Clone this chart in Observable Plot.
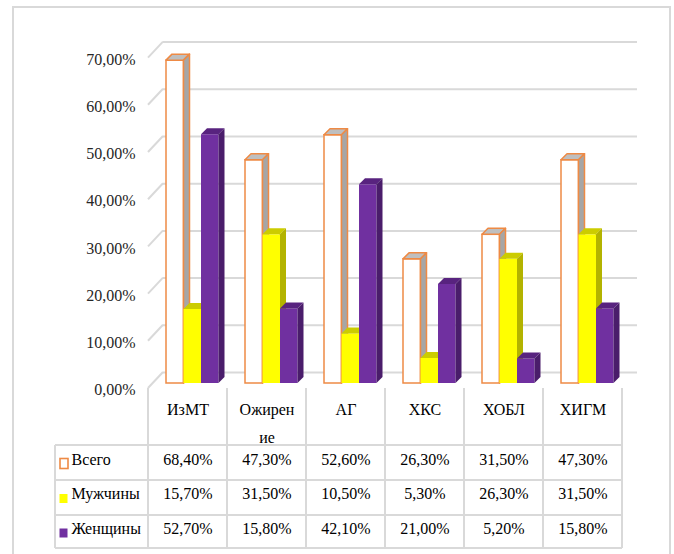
<!DOCTYPE html>
<html>
<head>
<meta charset="utf-8">
<script src="https://cdn.jsdelivr.net/npm/d3@7"></script>
<script src="https://cdn.jsdelivr.net/npm/@observablehq/plot@0.6"></script>
<style>
  html, body { margin: 0; padding: 0; background: #fff; overflow: hidden; }
</style>
</head>
<body>
<div id="chart"></div>
<script>
// Prevalence of conditions, percent
const categories = ["ИзМТ", "Ожирение", "АГ", "ХКС", "ХОБЛ", "ХИГМ"];
const categoryLabels = ["ИзМТ", "Ожирен\nие", "АГ", "ХКС", "ХОБЛ", "ХИГМ"];
const seriesNames = ["Всего", "Мужчины", "Женщины"];
const totalValues = [68.4, 47.3, 52.6, 26.3, 31.5, 47.3];
const menValues = [15.7, 31.5, 10.5, 5.3, 26.3, 31.5];
const womenValues = [52.7, 15.8, 42.1, 21.0, 5.2, 15.8];
const yTicks = [0, 10, 20, 30, 40, 50, 60, 70];

const seriesValues = [totalValues, menValues, womenValues];

// Face colours of the 3D columns: front, top, side, outline
const seriesStyles = [
  {front: "#ffffff", top: "#bfbfbf", side: "#a6a6a6", stroke: "#ee8a45", key: "hollow"},
  {front: "#ffff00", top: "#cccc00", side: "#b3b300", stroke: null},
  {front: "#7030a0", top: "#58237f", side: "#4a1d6b", stroke: null}
];

const W = 674, H = 554;
const M = {left: 148, right: 52, top: 52.6, bottom: 171};
const BAND = (W - M.left - M.right) / categories.length;
const BAR_OFFSET = 18, BAR_WIDTH = 17.5, DEPTH = 6;
const GRID = "#d9d9d9";
const FLOOR_FRONT = 5, BACK_DX = 15, BACK_DY = -11;
const FONT = "Times New Roman";
const fmtPct = v => v.toFixed(2).replace(".", ",") + "%";

// Table rows, measured down from the floor of the plot frame
const TABLE = {top: 5, header: 62, rows: [97, 132, 165], rowText: [81, 115.5, 150], left: 55};

function faces(g, x0, yTop, w, yBot, style) {
  const sel = d3.select(g);
  const x1 = x0 + w;
  const stroke = style.stroke || "none";
  sel.append("path")
    .attr("d", `M${x0},${yTop}L${x0 + DEPTH},${yTop - DEPTH}L${x1 + DEPTH},${yTop - DEPTH}L${x1},${yTop}Z`)
    .attr("fill", style.top).attr("stroke", stroke).attr("stroke-width", 1.5).attr("stroke-linejoin", "round");
  sel.append("path")
    .attr("d", `M${x1},${yTop}L${x1 + DEPTH},${yTop - DEPTH}L${x1 + DEPTH},${yBot - DEPTH}L${x1},${yBot}Z`)
    .attr("fill", style.side).attr("stroke", stroke).attr("stroke-width", 1.5).attr("stroke-linejoin", "round");
}

function bar3d(k) {
  const style = seriesStyles[k];
  const values = seriesValues[k];
  const insetLeft = BAR_OFFSET + k * BAR_WIDTH;
  return Plot.barY(categories, {
    x: d => d,
    y: (d, i) => values[i],
    fill: style.front,
    stroke: style.stroke || "none",
    strokeWidth: 1.5,
    insetLeft,
    insetRight: BAND - insetLeft - BAR_WIDTH,
    render(index, scales, vals, dims, ctx, next) {
      const g = next(index, scales, vals, dims, ctx);
      const rects = Array.from(g.querySelectorAll("rect"));
      for (const r of rects) {
        const x0 = +r.getAttribute("x"), y0 = +r.getAttribute("y");
        const w = +r.getAttribute("width"), h = +r.getAttribute("height");
        faces(g, x0, y0, w, y0 + h, style);
      }
      return g;
    }
  });
}

// Chart border, floor diagonals and data-table grid
function frameAndTable(index, {x, y}, values, dims) {
  const g = d3.create("svg:g").attr("fill", "none").attr("stroke", GRID).attr("stroke-width", 2);
  const base = dims.height - dims.marginBottom;
  const left = dims.marginLeft, right = dims.width - dims.marginRight;
  g.append("rect").attr("x", 13).attr("y", 7).attr("width", 657).attr("height", 560);
  for (const v of yTicks) {
    g.append("line")
      .attr("x1", left).attr("y1", y(v) + FLOOR_FRONT)
      .attr("x2", left + BACK_DX).attr("y2", y(v) + BACK_DY);
  }
  const edges = categories.map(c => x(c)).concat([x(categories[categories.length - 1]) + x.bandwidth()]);
  const tTop = base + TABLE.top, tBottom = base + TABLE.rows[2];
  for (const e of edges) {
    g.append("line").attr("x1", e).attr("x2", e).attr("y1", tTop).attr("y2", tBottom);
  }
  g.append("line").attr("x1", TABLE.left).attr("x2", TABLE.left)
    .attr("y1", base + TABLE.header).attr("y2", tBottom);
  for (const r of [TABLE.header, ...TABLE.rows]) {
    g.append("line").attr("x1", TABLE.left).attr("x2", right).attr("y1", base + r).attr("y2", base + r);
  }
  // legend keys in the row headers
  seriesStyles.forEach((s, k) => {
    const cy = base + TABLE.rowText[k];
    if (s.key === "hollow") {
      g.append("rect").attr("x", 60).attr("y", cy - 5.5).attr("width", 8).attr("height", 10)
        .attr("fill", "#fff").attr("stroke", s.stroke).attr("stroke-width", 1.6);
    } else {
      g.append("rect").attr("x", 59.5).attr("y", cy - 4.5).attr("width", 8).attr("height", 9)
        .attr("fill", s.front).attr("stroke", "none");
    }
  });
  return g.node();
}

const textColor = "#000";
const marks = [
  Plot.ruleY(yTicks, {dx: BACK_DX, dy: BACK_DY, stroke: GRID, strokeWidth: 2, strokeOpacity: 1}),
  frameAndTable,
  bar3d(0), bar3d(1), bar3d(2),
  Plot.axisY({ticks: yTicks, tickFormat: fmtPct, tickSize: 0, tickPadding: 13, dy: 6.5, label: null,
    fill: "#262626", fontFamily: FONT, fontSize: 16}),
  // with lineHeight 1.7 the first baseline sits 0.71 * 1.7 em below the anchor
  Plot.text(categories, {
    x: d => d, text: (d, i) => categoryLabels[i], fontFamily: FONT, fontSize: 16,
    frameAnchor: "bottom", dy: 12.7, lineAnchor: "top", lineHeight: 1.7, fill: textColor
  })
];
seriesValues.forEach((vals, k) => {
  const dy = TABLE.rowText[k];
  marks.push(Plot.text(categories, {
    x: d => d, text: (d, i) => fmtPct(vals[i]), fontFamily: FONT, fontSize: 16,
    frameAnchor: "bottom", dy, fill: textColor
  }));
  marks.push(Plot.text([seriesNames[k]], {
    text: d => d, frameAnchor: "bottom-left", textAnchor: "start", fontFamily: FONT, fontSize: 16,
    dx: 71 - M.left, dy, fill: textColor
  }));
});

const chart = Plot.plot({
  width: W,
  height: H,
  marginLeft: M.left,
  marginRight: M.right,
  marginTop: M.top,
  marginBottom: M.bottom,
  x: {domain: categories, padding: 0, axis: null},
  y: {domain: [0, 70], axis: null, label: null},
  style: {
    fontSize: "16px",
    background: "#fff",
    overflow: "visible"
  },
  marks
});
chart.setAttribute("font-family", FONT);
document.getElementById("chart").appendChild(chart);
</script>
</body>
</html>
